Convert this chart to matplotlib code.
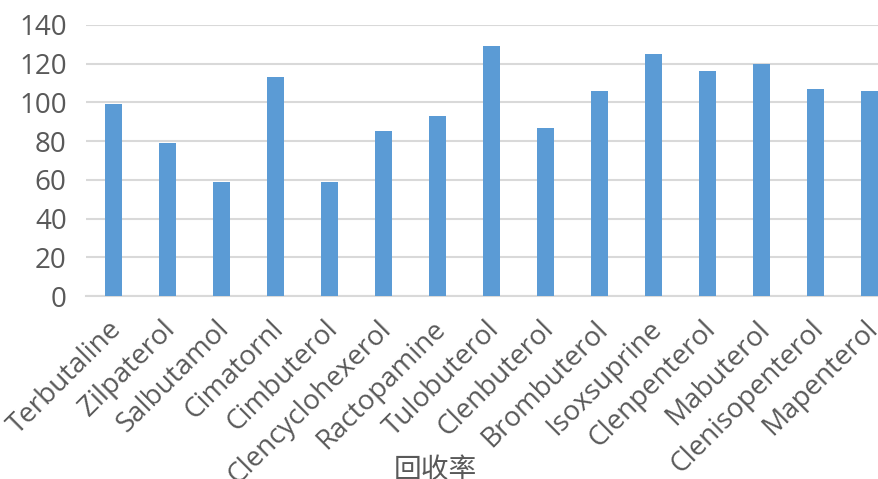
import matplotlib
matplotlib.use("Agg")
import matplotlib.pyplot as plt
import matplotlib.transforms as mtrans
import numpy as np

# data
compounds = ["Terbutaline", "Zilpaterol", "Salbutamol", "Cimatornl", "Cimbuterol",
             "Clencyclohexerol", "Ractopamine", "Tulobuterol", "Clenbuterol",
             "Brombuterol", "Isoxsuprine", "Clenpenterol", "Mabuterol",
             "Clenisopenterol", "Mapenterol"]
recovery = [99, 79, 59, 113, 59, 85, 93, 129, 87, 106, 125, 116, 120, 107, 106]
y_ticks = [0, 20, 40, 60, 80, 100, 120, 140]
x_title = "回收率"

plt.rcParams['font.family'] = ['Open Sans', 'Noto Sans CJK SC', 'DejaVu Sans']

fig = plt.figure(figsize=(8.79, 4.79), dpi=100)
ax = fig.add_axes([0.098, 0.382, 0.902, 0.566])

x = np.arange(len(compounds))
ax.bar(x, recovery, width=0.31, color="#5B9BD5", zorder=3)

ax.set_ylim(0, 140)
ax.set_yticks(y_ticks)
ax.set_xlim(-0.5, 14.17)
ax.set_xticks(x)
ax.set_xticklabels(compounds, rotation=45, ha="right", va="top",
                   rotation_mode="anchor")

ax.grid(axis="y", color="#D9D9D9", linewidth=1.5, zorder=0)
for s in ["top", "right", "left"]:
    ax.spines[s].set_visible(False)
ax.spines["bottom"].set_color("#D9D9D9")
ax.spines["bottom"].set_linewidth(1.5)
ax.tick_params(axis="both", length=0, labelsize=20, labelcolor="#595959")
ax.tick_params(axis="y", pad=14)
ax.tick_params(axis="x", pad=8)

# nudge the slanted labels a little left and down (after tick_params, which resets transforms)
shift = mtrans.ScaledTranslation(-6 / 100, -8 / 100, fig.dpi_scale_trans)
for lab in ax.get_xticklabels():
    lab.set_transform(lab.get_transform() + shift)

ax.set_xlabel(x_title, fontsize=20, color="#595959",
              family=['Noto Sans CJK SC', 'DejaVu Sans'])
ax.xaxis.set_label_coords(0.441, -0.588)

fig.savefig("out.png", dpi=100)
